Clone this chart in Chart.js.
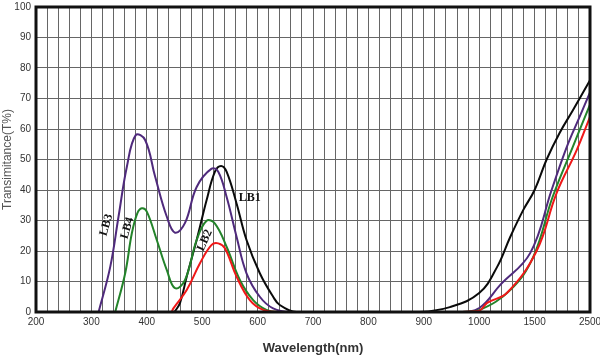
<!DOCTYPE html>
<html>
<head>
<meta charset="utf-8">
<script src="https://cdn.jsdelivr.net/npm/chart.js@4/dist/chart.umd.min.js"></script>
<style>
  body { margin: 0; background: #fff; }
</style>
</head>
<body>
<canvas id="tChart" width="600" height="360"></canvas>
<script>
// tick wavelengths (nm) - axis is piecewise, one major step per label
const waveTicks = [200, 300, 400, 500, 600, 700, 800, 900, 1000, 1500, 2500];

// LB1 (black)
const lb1Wave = [450, 460, 472, 490, 508, 523, 534, 544, 562, 580, 604, 628, 640, 670, 800, 893, 947, 1000, 1162, 1280, 1397, 1500, 1717, 1951, 2186, 2500];
const lb1T = [0, 3, 11.6, 23.6, 36.7, 46, 47.9, 46, 35.6, 23.6, 12.7, 5, 2.3, 0, 0, 0, 1.6, 6.2, 14.8, 24.6, 33.4, 40, 50, 58.7, 66, 76];

// LB2 (red)
const lb2Wave = [445, 448, 472, 496, 517, 529, 541, 562, 586, 610, 640, 800, 965, 1000, 1072, 1252, 1536, 1897, 2258, 2500];
const lb2T = [0, 1.2, 7.2, 16, 22, 22.5, 20.9, 11.6, 3.9, 0.7, 0, 0, 0, 0.4, 3, 6.3, 20, 39, 53, 64];

// LB3 (purple)
const lb3Wave = [313, 334, 349, 364, 380, 397, 415, 436, 451, 469, 490, 517, 529, 544, 562, 580, 604, 628, 660, 800, 965, 1000, 1190, 1460, 1807, 2078, 2312, 2500];
const lb3T = [0, 14.8, 31.3, 47.6, 58, 56.4, 44.4, 31.3, 26, 29.2, 41, 47, 46, 37.8, 24.7, 12.7, 5, 1.2, 0, 0, 0, 1.3, 8.9, 19.3, 40, 54, 64, 72];

// LB4 (green)
const lb4Wave = [343, 361, 373, 383, 391, 400, 418, 436, 451, 469, 490, 508, 523, 544, 568, 592, 616, 640, 800, 965, 1000, 1280, 1487, 1825, 2186, 2500];
const lb4T = [0, 12.7, 25.8, 32.4, 34, 32.9, 23.6, 13.8, 7.8, 10.5, 23.6, 29.9, 29, 21.4, 10.5, 3.9, 0.7, 0, 0, 0, 0.6, 7.2, 18, 37.7, 54, 68];

// wavelength -> axis position (0..10)
function pos(nm) {
  for (let i = 0; i < waveTicks.length - 1; i++) {
    if (nm <= waveTicks[i + 1]) {
      return i + (nm - waveTicks[i]) / (waveTicks[i + 1] - waveTicks[i]);
    }
  }
  return waveTicks.length - 1;
}

function points(wave, t) {
  return wave.map((w, i) => ({ x: pos(w), y: t[i] }));
}

const curveLabels = [
  { text: "LB1", nm: 586, t: 37.5, angle: 0 },
  { text: "LB2", nm: 505, t: 23.5, angle: -66 },
  { text: "LB3", nm: 327, t: 28.5, angle: -74 },
  { text: "LB4", nm: 365, t: 27.5, angle: -74 },
];

const labelPlugin = {
  id: "curveLabels",
  afterDatasetsDraw(chart) {
    const { ctx, scales } = chart;
    ctx.save();
    ctx.font = "bold 12px 'Liberation Serif', serif";
    ctx.fillStyle = "#111";
    ctx.textAlign = "center";
    ctx.textBaseline = "middle";
    curveLabels.forEach((l) => {
      ctx.save();
      ctx.translate(scales.x.getPixelForValue(pos(l.nm)), scales.y.getPixelForValue(l.t));
      ctx.rotate((l.angle * Math.PI) / 180);
      ctx.fillText(l.text, 0, 0);
      ctx.restore();
    });
    ctx.restore();
  },
};

const framePlugin = {
  id: "frame",
  afterDraw(chart) {
    const { ctx, chartArea: a } = chart;
    ctx.save();
    ctx.strokeStyle = "#111";
    ctx.lineWidth = 3;
    ctx.strokeRect(a.left, a.top, a.right - a.left, a.bottom - a.top);
    ctx.restore();
  },
};

const line = { borderWidth: 2, pointRadius: 0, tension: 0.4, fill: false, showLine: true };

new Chart(document.getElementById("tChart"), {
  type: "scatter",
  data: {
    datasets: [
      { label: "LB2", data: points(lb2Wave, lb2T), borderColor: "#f01818", ...line },
      { label: "LB4", data: points(lb4Wave, lb4T), borderColor: "#23832a", ...line },
      { label: "LB3", data: points(lb3Wave, lb3T), borderColor: "#4f2a7c", ...line },
      { label: "LB1", data: points(lb1Wave, lb1T), borderColor: "#0a0a0a", ...line },
    ],
  },
  options: {
    responsive: false,
    animation: false,
    layout: { padding: 0 },
    plugins: { legend: { display: false }, tooltip: { enabled: false } },
    scales: {
      x: {
        type: "linear",
        min: 0,
        max: waveTicks.length - 1,
        afterBuildTicks(axis) {
          const t = [];
          for (let i = 0; i <= (waveTicks.length - 1) * 5; i++) t.push({ value: i / 5 });
          axis.ticks = t;
        },
        afterFit(axis) {
          axis.height = 48;
          axis.paddingLeft = 0;
          axis.paddingRight = 10;
        },
        ticks: {
          autoSkip: false,
          maxRotation: 0,
          padding: 4,
          color: "#333",
          font: { size: 10, family: "'Liberation Sans', Arial, sans-serif" },
          callback(v) {
            const r = Math.round(v);
            return Math.abs(v - r) < 1e-6 ? String(waveTicks[r]) : "";
          },
        },
        grid: { color: "#666", lineWidth: 1, drawTicks: false },
        border: { display: false },
        title: {
          display: true,
          text: "Wavelength(nm)",
          color: "#333",
          padding: { top: 6 },
          font: { size: 13, weight: "bold", family: "'Liberation Sans', Arial, sans-serif" },
        },
      },
      y: {
        min: 0,
        max: 100,
        afterFit(axis) {
          axis.width = 36;
          axis.paddingTop = 7;
          axis.paddingBottom = 0;
        },
        ticks: {
          stepSize: 10,
          padding: 5,
          color: "#333",
          font: { size: 10, family: "'Liberation Sans', Arial, sans-serif" },
        },
        grid: { color: "#666", lineWidth: 1, drawTicks: false },
        border: { display: false },
        title: {
          display: true,
          text: "Transimitance(T%)",
          color: "#555",
          padding: 0,
          font: { size: 12, family: "'Liberation Sans', Arial, sans-serif" },
        },
      },
    },
  },
  plugins: [labelPlugin, framePlugin],
});
</script>
</body>
</html>
